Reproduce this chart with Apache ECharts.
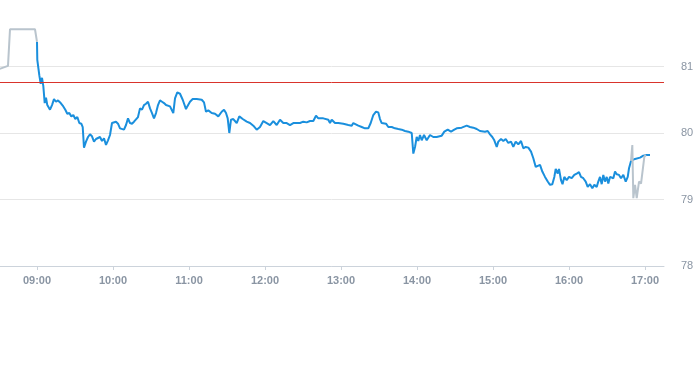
<!DOCTYPE html>
<html>
<head>
<meta charset="utf-8">
<script src="https://cdn.jsdelivr.net/npm/echarts@6/dist/echarts.min.js"></script>
<style>html,body{margin:0;padding:0;background:#fff}#c{width:693px;height:365px}</style>
</head>
<body>
<div id="c"></div>
<script>
const DAY = '2024-01-02 ';
const preTimes = ['08:30:00','08:37:06','08:38:41','08:58:25','09:00:00'];
const preValues = [80.96,81.01,81.56,81.56,81.37];

const mainTimes = ['09:00:00','09:00:14','09:01:49','09:02:55','09:03:57','09:04:58','09:06:05','09:07:06','09:08:08','09:09:14',
'09:10:16','09:11:51','09:13:25','09:15:00','09:16:35','09:18:43','09:20:46','09:22:21','09:23:55','09:25:30',
'09:27:05','09:28:40','09:30:15','09:31:50','09:33:24','09:34:59','09:36:05','09:37:06','09:38:41','09:40:16',
'09:41:50','09:43:25','09:45:00','09:46:35','09:48:09','09:49:44','09:51:19','09:52:54','09:54:28','09:56:03',
'09:57:38','09:59:13','10:00:47','10:02:22','10:03:57','10:05:32','10:07:06','10:08:41','10:10:16','10:11:51',
'10:13:25','10:15:00','10:16:35','10:18:09','10:19:44','10:21:19','10:22:54','10:24:28','10:26:03','10:27:38',
'10:29:13','10:30:47','10:32:22','10:33:57','10:35:32','10:37:06','10:38:41','10:40:16','10:41:51','10:45:00',
'10:47:36','10:48:57','10:50:46','10:52:54','10:55:02','10:57:38','10:58:40','11:00:47','11:02:55','11:06:05',
'11:10:02','11:11:51','11:13:25','11:15:14','11:17:55','11:20:32','11:23:08','11:25:49','11:27:38','11:29:13',
'11:30:33','11:31:49','11:33:09','11:34:58','11:37:40','11:39:43','11:42:24','11:45:34','11:48:10','11:50:46',
'11:53:27','11:56:03','11:58:40','12:01:21','12:03:57','12:06:33','12:09:14','12:11:51','12:14:27','12:17:08',
'12:19:44','12:22:21','12:25:02','12:27:38','12:30:14','12:32:55','12:35:32','12:38:08','12:40:16','12:42:05',
'12:46:02','12:49:58','12:51:19','12:52:40','12:55:16','12:57:52','13:01:49','13:05:46','13:08:27','13:09:43',
'13:11:03','13:13:40','13:16:21','13:18:57','13:21:33','13:23:27','13:25:30','13:27:38','13:29:27','13:30:47',
'13:32:08','13:35:32','13:37:21','13:40:02','13:42:38','13:45:15','13:47:56','13:50:32','13:53:08','13:55:50',
'13:57:06','13:58:26','13:59:46','14:01:02','14:02:22','14:03:43','14:05:32','14:07:40','14:10:16','14:12:52',
'14:15:33','14:16:49','14:19:31','14:21:34','14:24:15','14:26:51','14:29:27','14:31:21','14:35:17','14:39:14',
'14:41:50','14:44:27','14:47:08','14:49:44','14:51:05','14:53:41','14:55:49','14:57:38','14:59:27','15:01:02',
'15:02:56','15:04:12','15:06:20','15:08:09','15:10:02','15:12:05','15:14:13','15:16:02','15:17:55','15:19:59',
'15:22:07','15:23:56','15:25:50','15:27:53','15:30:01','15:31:50','15:33:44','15:35:18','15:37:07','15:38:56',
'15:41:04','15:43:12','15:45:01','15:46:50','15:48:25','15:49:31','15:51:06','15:52:07','15:53:42','15:54:53',
'15:56:18','15:58:11','16:00:00','16:02:08','16:04:11','16:06:05','16:07:54','16:09:28','16:11:17','16:13:11',
'16:14:46','16:16:35','16:18:24','16:19:59','16:21:52','16:23:08','16:24:28','16:25:49','16:27:05','16:28:26',
'16:29:46','16:31:02','16:32:23','16:33:43','16:35:00','16:36:20','16:37:40','16:39:29','16:41:04','16:42:53',
'16:44:47','16:46:22','16:47:23','16:48:58','16:52:08','16:56:05','16:58:41','17:01:22','17:03:58'];
const mainValues = [81.37,81.10,80.87,80.74,80.83,80.71,80.45,80.53,80.42,80.40,
80.35,80.42,80.51,80.47,80.49,80.45,80.40,80.35,80.29,80.30,
80.25,80.27,80.21,80.24,80.15,80.14,80.09,79.78,79.87,79.94,
79.98,79.95,79.87,79.91,79.89,79.94,79.88,79.92,79.82,79.89,
79.97,80.15,80.14,80.17,80.14,80.07,80.09,80.05,80.12,80.22,
80.15,80.14,80.17,80.20,80.24,80.37,80.35,80.42,80.44,80.47,
80.37,80.30,80.22,80.30,80.42,80.49,80.47,80.45,80.42,80.40,
80.30,80.52,80.61,80.59,80.50,80.36,80.40,80.47,80.51,80.51,
80.50,80.46,80.32,80.34,80.30,80.29,80.25,80.32,80.35,80.30,
80.22,80.00,80.20,80.21,80.15,80.25,80.21,80.17,80.15,80.11,
80.05,80.09,80.18,80.15,80.12,80.18,80.12,80.20,80.15,80.15,
80.12,80.15,80.15,80.15,80.17,80.16,80.18,80.18,80.26,80.22,
80.22,80.20,80.15,80.20,80.15,80.15,80.14,80.12,80.11,80.15,
80.12,80.11,80.09,80.07,80.07,80.15,80.27,80.32,80.31,80.21,
80.15,80.14,80.09,80.09,80.07,80.06,80.05,80.03,80.02,80.00,
79.69,79.79,79.94,79.88,79.97,79.89,79.97,79.89,79.97,79.94,
79.94,79.94,79.96,80.02,80.05,80.02,80.05,80.07,80.08,80.11,
80.09,80.08,80.06,80.03,80.06,80.02,80.03,79.98,79.94,79.89,
79.79,79.87,79.91,79.88,79.91,79.85,79.87,79.79,79.87,79.83,
79.88,79.77,79.79,79.78,79.72,79.62,79.49,79.47,79.52,79.42,
79.34,79.27,79.22,79.23,79.34,79.46,79.39,79.46,79.29,79.23,
79.34,79.29,79.34,79.32,79.37,79.39,79.41,79.34,79.32,79.27,
79.19,79.23,79.17,79.22,79.19,79.27,79.34,79.23,79.37,79.27,
79.34,79.24,79.34,79.37,79.32,79.42,79.38,79.37,79.32,79.37,
79.27,79.34,79.47,79.58,79.61,79.63,79.66,79.67,79.67];

const postTimes = ['16:48:58','16:49:59','16:50:47','16:52:08','16:53:28','16:55:17','16:56:52','16:57:54','16:59:28','17:00:34'];
const postValues = [79.58,79.82,79.02,79.22,79.02,79.27,79.24,79.27,79.64,79.67];

const refLevel = 80.76;
const yTicks = [78, 79, 80, 81];
const hourLabels = ['09:00','10:00','11:00','12:00','13:00','14:00','15:00','16:00','17:00'];
const axisStart = '08:30:00';
const axisEnd = '17:15:00';

const ms = t => echarts.time.parse(DAY + t).getTime();
const toPairs = (ts, vs) => ts.map((t, i) => [ms(t), vs[i]]);
const hourVals = hourLabels.map(h => ms(h + ':00'));
const pad = n => String(n).padStart(2, '0');

const chart = echarts.init(document.getElementById('c'), null, {renderer: 'canvas'});
chart.setOption({
  animation: false,
  grid: {left: -1, right: 29, top: 0, bottom: 99, containLabel: false, outerBoundsMode: 'none'},
  xAxis: {
    type: 'value',
    min: ms(axisStart),
    max: ms(axisEnd),
    axisLine: {lineStyle: {color: '#ccd3db'}},
    axisTick: {show: true, length: 4, lineStyle: {color: '#ccd3db'}, customValues: hourVals},
    axisLabel: {
      customValues: hourVals,
      color: '#8a95a3', fontSize: 11, fontWeight: 'bold', margin: 9,
      fontFamily: 'Liberation Sans, Arial, sans-serif',
      formatter: v => { const d = new Date(v); return pad(d.getHours()) + ':' + pad(d.getMinutes()); }
    },
    splitLine: {show: false}
  },
  yAxis: {
    type: 'value', position: 'right',
    min: 78, max: 82, interval: 1,
    axisLine: {show: false}, axisTick: {show: false},
    axisLabel: {color: '#8a95a3', fontSize: 11, margin: 17, showMaxLabel: false,
      fontFamily: 'Liberation Sans, Arial, sans-serif',
      formatter: v => yTicks.includes(v) ? String(v) : ''},
    splitLine: {show: true, showMaxLine: false, lineStyle: {color: '#e6e6e6', width: 1}}
  },
  series: [
    {type: 'line', data: toPairs(preTimes, preValues), showSymbol: false, symbol: 'none',
     lineStyle: {color: '#b9c4cd', width: 2}, itemStyle: {color: '#b9c4cd'}, z: 2},
    {type: 'line', data: toPairs(mainTimes, mainValues), showSymbol: false, symbol: 'none',
     lineStyle: {color: '#1a8fdd', width: 2}, itemStyle: {color: '#1a8fdd'}, z: 3,
     markLine: {silent: true, symbol: 'none', label: {show: false},
       lineStyle: {color: '#d9342c', width: 1, type: 'solid'},
       data: [{yAxis: refLevel}]}},
    {type: 'line', data: toPairs(postTimes, postValues), showSymbol: false, symbol: 'none',
     lineStyle: {color: '#b9c4cd', width: 2}, itemStyle: {color: '#b9c4cd'}, z: 4}
  ]
});
</script>
</body>
</html>
